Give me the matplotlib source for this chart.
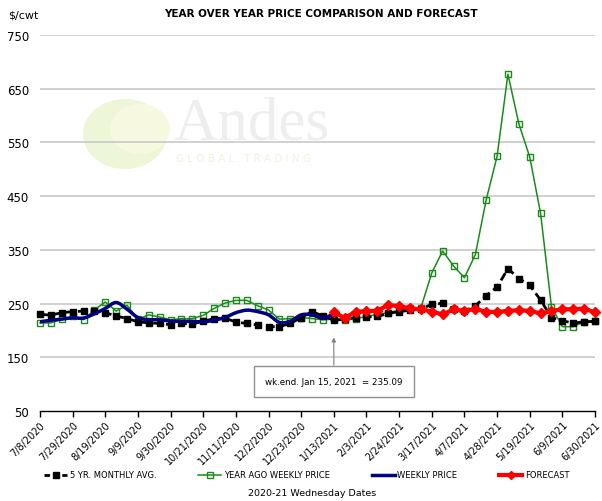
import numpy as np
import matplotlib
matplotlib.use("Agg")
import matplotlib.pyplot as plt
from matplotlib.lines import Line2D
from matplotlib.path import Path
from matplotlib.patches import PathPatch, Circle

# week index 0..51 -> Wednesdays from 7/8/2020 to 6/30/2021
tick_labels = ["7/8/2020", "7/29/2020", "8/19/2020", "9/9/2020", "9/30/2020",
               "10/21/2020", "11/11/2020", "12/2/2020", "12/23/2020", "1/13/2021",
               "2/3/2021", "2/24/2021", "3/17/2021", "4/7/2021", "4/28/2021",
               "5/19/2021", "6/9/2021", "6/30/2021"]
n_weeks = 52

five_yr_avg = [230, 228.5, 233, 235, 236, 236, 233, 227, 222, 216,
               214, 213, 210.6, 213, 212, 217, 222, 223, 215.6, 213,
               210, 207, 207, 213, 224, 235, 227, 219, 221, 224,
               225, 226, 231.6, 235, 237.6, 239.5, 248.7, 250.5, 239.5, 236,
               245.6, 265, 280.6, 315, 296.6, 284, 256.6, 224, 218, 213.7,
               216, 217]

year_ago = [214, 214, 221, 226, 220, 238, 253, 236, 247, 221,
            229, 225, 220, 222, 222, 228, 241, 251, 256, 256,
            246, 238, 221, 222, 224, 222, 220, 221, 219, 222,
            226, 230, 233, 238, 241, 242, 307, 348, 320, 298,
            341, 443, 524, 677, 585, 523, 418, 244, 207, 207,
            216, 218]

weekly_price = [216, 219, 221, 223.5, 223, 231, 241, 252, 239.5, 224,
                220, 220, 217.4, 217, 217, 216, 219, 224, 233, 237.7,
                235, 229, 215, 217, 229, 229, 223, 231]

forecast_start = 27
forecast = [234.5, 223, 235, 235.5, 237, 247, 245.6, 241, 239.5, 235,
            230, 239, 236.5, 240, 234.5, 234.5, 236.4, 237.7, 236.4, 231.6,
            236.4, 239.5, 239.5, 240.8, 233.4]

note_text = "wk.end. Jan 15, 2021  = 235.09"

GREEN = "#1a8a1a"
BLUE = "#000080"
RED = "#ff0000"

fig = plt.figure(figsize=(6.02, 5.02), dpi=100)
ax = fig.add_axes([40 / 602, 1 - 412 / 502, 555 / 602, 376 / 502])

# faint watermark logo
ax.add_patch(Circle((125 / 602, 1 - 135 / 502), 42 / 602, transform=fig.transFigure,
                    facecolor="#edf6d6", edgecolor="none", zorder=0))
ax.add_patch(Circle((140 / 602, 1 - 130 / 502), 30 / 602, transform=fig.transFigure,
                    facecolor="#f6f9df", edgecolor="none", zorder=0))
fig.text(173 / 602, 1 - 140 / 502, "Andes", fontsize=44, family="Liberation Serif",
         color="#eeeeee", zorder=0)
fig.text(176 / 602, 1 - 162 / 502, "G L O B A L   T R A D I N G", fontsize=7.5,
         color="#f0f4dc", zorder=0)

x = np.arange(n_weeks)

ax.plot(x, five_yr_avg, color="black", lw=2, ls=(0, (3, 1.6)), marker="s",
        markersize=4.5, clip_on=False, zorder=4)
ax.plot(x, year_ago, color=GREEN, lw=1.1, marker="s", markersize=4.5,
        markerfacecolor="none", markeredgewidth=1, clip_on=False, zorder=3)


def smooth_path(xs, ys):
    # Catmull-Rom style smoothing like a spreadsheet "smoothed line"
    pts = np.column_stack([xs, ys])
    verts = [pts[0]]
    codes = [Path.MOVETO]
    for i in range(len(pts) - 1):
        p0 = pts[i - 1] if i > 0 else pts[i]
        p1 = pts[i]
        p2 = pts[i + 1]
        p3 = pts[i + 2] if i + 2 < len(pts) else pts[i + 1]
        verts += [p1 + (p2 - p0) / 6, p2 - (p3 - p1) / 6, p2]
        codes += [Path.CURVE4] * 3
    return Path(verts, codes)


wx = np.arange(len(weekly_price))
ax.add_patch(PathPatch(smooth_path(wx, np.array(weekly_price, float)), fill=False,
                       edgecolor=BLUE, lw=2.5, zorder=5, capstyle="round"))

fx = np.arange(forecast_start, forecast_start + len(forecast))
ax.plot(fx, forecast, color=RED, lw=3, marker="D", markersize=5.5,
        clip_on=False, zorder=6)

ax.set_xlim(0, n_weeks - 1)
ax.set_ylim(50, 750)
ax.set_yticks(np.arange(50, 751, 100))
ax.set_xticks(np.arange(0, n_weeks, 3))
ax.set_xticklabels(tick_labels, rotation=45, ha="right", rotation_mode="anchor",
                   fontsize=7)
ax.tick_params(axis="y", length=0, labelsize=8.5, pad=8)
ax.tick_params(axis="x", length=4, width=1, pad=2, direction="out")
for v in np.arange(150, 751, 100):
    ax.axhline(v, color="#c8c8c8", lw=1.2, zorder=1)
for s in ["top", "right", "left"]:
    ax.spines[s].set_visible(False)
ax.spines["bottom"].set_linewidth(1)

# annotation for the latest weekly price
ax.annotate(note_text, xy=(forecast_start, 187), xytext=(forecast_start, 105),
            ha="center", va="center", fontsize=6.3,
            bbox=dict(boxstyle="square,pad=1.3", fc="white", ec="#909090", lw=1),
            arrowprops=dict(arrowstyle="-|>", color="#808080", lw=0.8,
                            mutation_scale=6, shrinkA=0, shrinkB=0),
            zorder=7)

fig.text(8 / 602, 1 - 15 / 502, "$/cwt", fontsize=8, va="center")
fig.text(321 / 602, 1 - 14 / 502, "YEAR OVER YEAR PRICE COMPARISON AND FORECAST",
         fontsize=7.5, fontweight="bold", ha="center", va="center")
fig.text(312 / 602, 1 - 494 / 502, "2020-21 Wednesday Dates", fontsize=6.8,
         ha="center", va="center")

handles = [
    Line2D([], [], color="black", lw=2, ls=(0, (2, 1.2)), marker="s", markersize=4),
    Line2D([], [], color=GREEN, lw=1.1, marker="s", markersize=4,
           markerfacecolor="none"),
    Line2D([], [], color=BLUE, lw=2.5),
    Line2D([], [], color=RED, lw=3, marker="D", markersize=4.5),
]
labels = ["5 YR. MONTHLY AVG.", "YEAR AGO WEEKLY PRICE", "WEEKLY PRICE", "FORECAST"]
fig.legend(handles, labels, loc="center left", bbox_to_anchor=(44 / 602, 1 - 476 / 502),
           ncol=4, frameon=False, fontsize=6, handlelength=2.8, handletextpad=0.3,
           columnspacing=5.0, borderaxespad=0, borderpad=0)

fig.savefig("out.png", dpi=100)
